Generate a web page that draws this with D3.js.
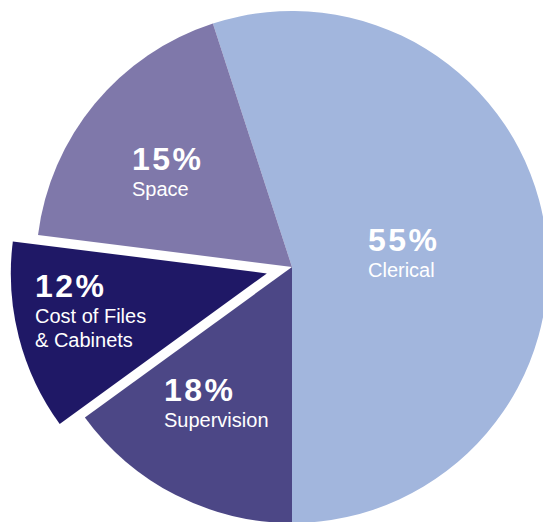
<!DOCTYPE html>
<html>
<head>
<meta charset="utf-8">
<script src="https://cdn.jsdelivr.net/npm/d3@7"></script>
<style>
    body { margin: 0; background: #fff; overflow: hidden; }
    svg { display: block; }
</style>
</head>
<body>
<div id="chart"></div>
<script>
// chart data, clockwise from the Clerical slice
const categories = ['Clerical', 'Supervision', 'Cost of Files\n& Cabinets', 'Space'];
// percentages as printed on the slices
const percentLabels = ['55%', '18%', '12%', '15%'];
// slice sizes as drawn (in the source the Supervision and Space
// wedges are drawn at 15% and 18%, the printed labels are swapped)
const sliceValues = [55, 15, 12, 18];
const explodedCategory = 'Cost of Files\n& Cabinets';

const WIDTH = 543;
const HEIGHT = 522;
const CENTER = { x: 292, y: 267 };
const RADIUS = 256;
const EXPLODE = 26;

const colors = d3.scaleOrdinal()
    .domain(categories)
    .range(['#a2b6dd', '#4c4786', '#1f1866', '#7f78aa']);

// where each label block starts, relative to the pie centre
const labelOffset = {
    'Clerical': [76, -16],
    'Supervision': [-128, 134],
    'Cost of Files\n& Cabinets': [-257, 30],
    'Space': [-160, -97],
};

const svg = d3.select('#chart')
    .append('svg')
        .attr('width', WIDTH)
        .attr('height', HEIGHT)
    .append('g')
        .attr('transform', 'translate(' + CENTER.x + ',' + CENTER.y + ')');

const data = categories.map((c, i) => ({
    category: c,
    value: sliceValues[i],
    label: percentLabels[i],
}));

// Clerical ends exactly at 6 o'clock
const total = d3.sum(sliceValues);
const start = Math.PI - (sliceValues[0] / total) * 2 * Math.PI;

const pie = d3.pie()
    .sort(null)
    .value(d => d.value)
    .startAngle(start)
    .endAngle(start + 2 * Math.PI);

const arc = d3.arc()
    .innerRadius(0)
    .outerRadius(RADIUS);

const arcs = pie(data);

svg.selectAll('path.slice')
    .data(arcs)
    .join('path')
        .attr('class', 'slice')
        .attr('fill', d => colors(d.data.category))
        .attr('d', arc)
        .attr('transform', d => {
            if (d.data.category !== explodedCategory) return null;
            const mid = (d.startAngle + d.endAngle) / 2;
            return 'translate(' + (Math.sin(mid) * EXPLODE) + ',' + (-Math.cos(mid) * EXPLODE) + ')';
        });

// labels
const labels = svg.selectAll('g.label')
    .data(arcs)
    .join('g')
        .attr('class', 'label')
        .attr('transform', d => {
            const o = labelOffset[d.data.category];
            return 'translate(' + o[0] + ',' + o[1] + ')';
        });

labels.append('text')
    .text(d => d.data.label)
    .attr('fill', '#fff')
    .attr('font-family', '"Liberation Sans", Arial, sans-serif')
    .attr('font-weight', 'bold')
    .attr('font-size', 32)
    .attr('letter-spacing', 2.5);

labels.each(function (d) {
    const lines = d.data.category.split('\n');
    d3.select(this).selectAll('text.name')
        .data(lines)
        .join('text')
            .attr('class', 'name')
            .text(t => t)
            .attr('y', (t, i) => 25.5 + i * 24)
            .attr('fill', '#fff')
            .attr('font-family', '"Liberation Sans", Arial, sans-serif')
            .attr('font-size', 20);
});
</script>
</body>
</html>
